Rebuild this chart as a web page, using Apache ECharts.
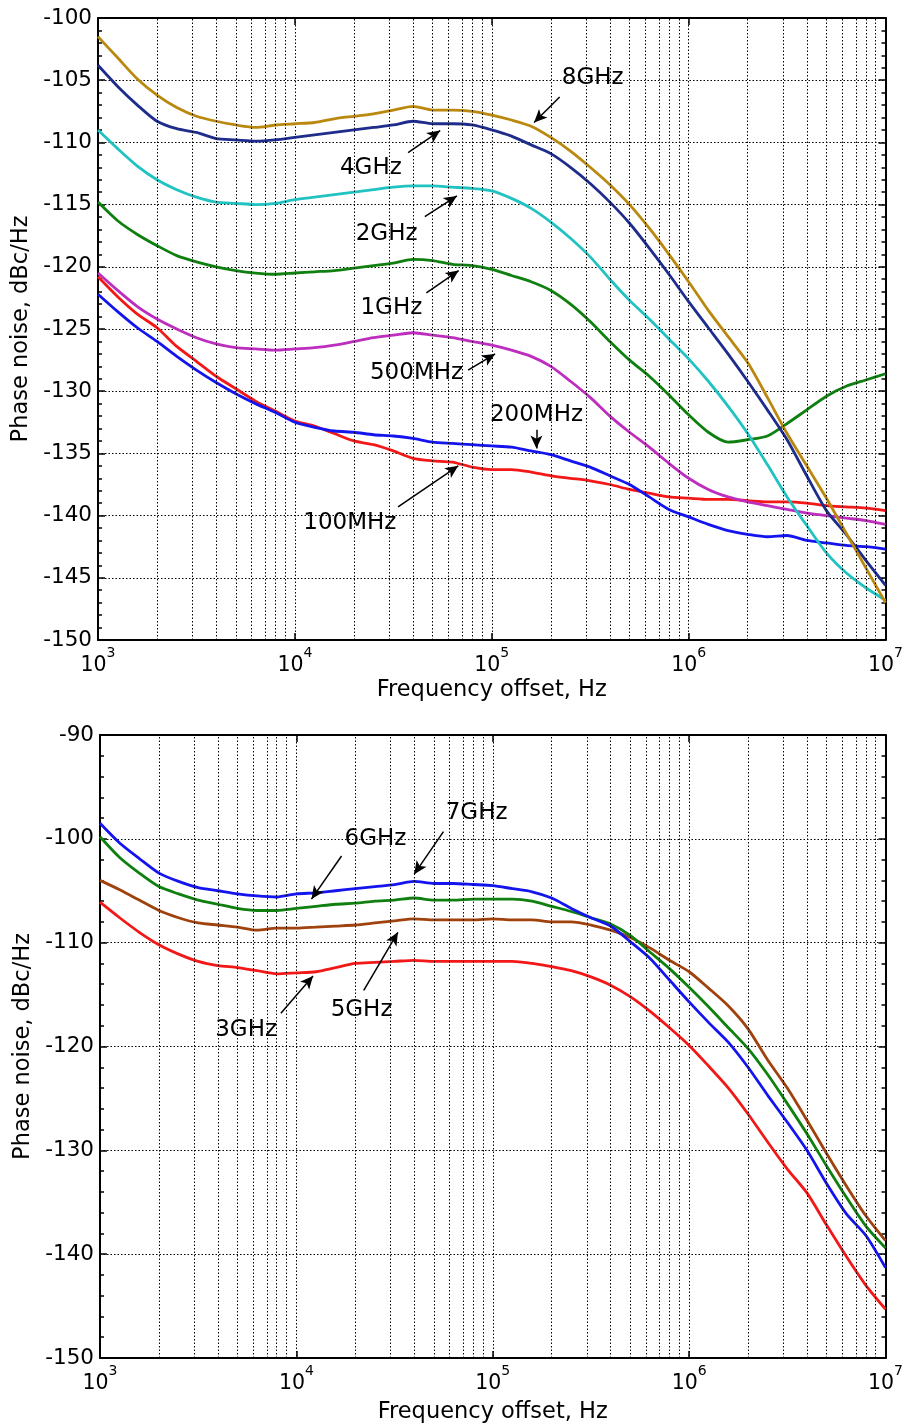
<!DOCTYPE html>
<html><head><meta charset="utf-8">
<script src="https://cdn.jsdelivr.net/npm/echarts@6/dist/echarts.min.js"></script>
<style>html,body{margin:0;padding:0;background:#fff}#c{width:906px;height:1428px}</style>
</head><body><div id="c"></div>
<script>
// log10 of frequency offset (Hz), shared sample grid for both panels
const logFreq = [3.0,3.1,3.2,3.3,3.4,3.5,3.6,3.7,3.8,3.9,4.0,4.1,4.2,4.3,4.4,4.5,4.6,4.7,4.8,4.9,5.0,5.1,5.2,5.3,5.4,5.5,5.6,5.7,5.8,5.9,6.0,6.1,6.2,6.3,6.4,6.5,6.6,6.7,6.8,6.9,7.0];

// ---- Top panel (dBc/Hz) ----
const p1_8GHz = [-101.5,-103.2,-104.9,-106.2,-107.2,-107.9,-108.3,-108.6,-108.8,-108.6,-108.5,
  -108.4,-108.1,-107.9,-107.7,-107.4,-107.1,-107.4,-107.4,-107.5,-107.8,
  -108.2,-108.7,-109.6,-110.7,-112.0,-113.4,-115.0,-116.9,-119.0,-121.2,
  -123.5,-125.6,-127.7,-130.5,-133.4,-136.0,-138.6,-141.4,-144.2,-147.0];
const p1_4GHz = [-103.8,-105.5,-107.0,-108.3,-108.9,-109.2,-109.7,-109.8,-109.9,-109.8,-109.6,
  -109.4,-109.2,-109.0,-108.8,-108.6,-108.3,-108.5,-108.5,-108.6,-109.0,
  -109.5,-110.2,-110.9,-112.0,-113.3,-114.8,-116.5,-118.5,-120.6,-122.8,
  -124.9,-127.0,-129.2,-131.5,-133.9,-136.8,-139.6,-141.5,-143.6,-145.6];
const p1_2GHz = [-109.0,-110.5,-111.9,-113.0,-113.8,-114.4,-114.8,-114.9,-115.0,-114.9,-114.6,
  -114.4,-114.2,-114.0,-113.8,-113.6,-113.5,-113.5,-113.6,-113.7,-113.9,
  -114.5,-115.3,-116.4,-117.7,-119.2,-121.0,-122.7,-124.2,-125.8,-127.4,
  -129.2,-131.2,-133.4,-135.9,-138.5,-140.8,-143.0,-144.6,-145.8,-146.8];
const p1_1GHz = [-114.8,-116.3,-117.4,-118.3,-119.1,-119.6,-120.0,-120.3,-120.5,-120.6,-120.5,
  -120.4,-120.3,-120.1,-119.9,-119.7,-119.4,-119.5,-119.8,-119.9,-120.2,
  -120.7,-121.2,-121.9,-123.0,-124.4,-126.0,-127.5,-128.8,-130.3,-131.9,
  -133.3,-134.1,-133.9,-133.6,-132.6,-131.5,-130.4,-129.6,-129.1,-128.6];
const p1_500MHz = [-120.5,-121.9,-123.2,-124.2,-125.0,-125.7,-126.2,-126.5,-126.6,-126.7,-126.6,
  -126.5,-126.3,-126.0,-125.7,-125.5,-125.3,-125.5,-125.7,-126.0,-126.3,
  -126.7,-127.2,-128.0,-129.2,-130.5,-132.0,-133.3,-134.5,-135.8,-137.0,
  -137.9,-138.5,-138.9,-139.2,-139.5,-139.8,-140.0,-140.2,-140.4,-140.7];
const p1_200MHz = [-122.2,-123.6,-124.9,-126.0,-127.2,-128.3,-129.3,-130.2,-131.0,-131.7,-132.5,
  -132.9,-133.2,-133.3,-133.5,-133.6,-133.8,-134.1,-134.2,-134.3,-134.4,
  -134.5,-134.8,-135.1,-135.6,-136.1,-136.8,-137.5,-138.5,-139.5,-140.1,
  -140.7,-141.2,-141.5,-141.7,-141.6,-142.0,-142.2,-142.4,-142.5,-142.7];
const p1_100MHz = [-120.8,-122.4,-123.8,-124.9,-126.4,-127.6,-128.8,-129.8,-130.8,-131.6,-132.4,
  -132.8,-133.4,-134.0,-134.3,-134.8,-135.4,-135.6,-135.7,-136.1,-136.3,
  -136.3,-136.5,-136.8,-137.0,-137.2,-137.5,-137.9,-138.2,-138.5,-138.6,
  -138.7,-138.7,-138.8,-138.9,-138.9,-139.0,-139.2,-139.3,-139.4,-139.6];

// ---- Bottom panel (dBc/Hz) ----
const p2_7GHz = [-98.5,-100.4,-101.9,-103.3,-104.1,-104.7,-105.0,-105.3,-105.5,-105.6,-105.3,
  -105.2,-105.0,-104.8,-104.6,-104.4,-104.1,-104.3,-104.3,-104.4,-104.5,
  -104.8,-105.1,-105.7,-106.7,-107.6,-108.4,-109.9,-111.5,-113.6,-115.7,
  -117.7,-119.6,-122.0,-124.7,-127.3,-130.0,-133.2,-136.1,-138.2,-141.3];
const p2_6GHz = [-99.8,-101.8,-103.3,-104.6,-105.3,-105.9,-106.3,-106.7,-106.9,-106.9,-106.7,
  -106.5,-106.3,-106.2,-106.0,-105.9,-105.7,-105.9,-105.9,-105.8,-105.8,
  -105.8,-106.0,-106.5,-107.0,-107.6,-108.2,-109.3,-110.9,-112.5,-114.3,
  -116.2,-118.2,-120.2,-122.7,-125.5,-128.4,-131.5,-134.5,-137.3,-139.4];
const p2_5GHz = [-104.0,-104.9,-105.9,-106.9,-107.6,-108.1,-108.3,-108.5,-108.8,-108.6,-108.6,
  -108.5,-108.4,-108.3,-108.1,-107.9,-107.7,-107.8,-107.8,-107.8,-107.7,
  -107.8,-107.8,-108.0,-108.0,-108.3,-108.8,-109.5,-110.5,-111.7,-112.8,
  -114.4,-116.1,-118.3,-121.3,-124.0,-127.1,-130.3,-133.4,-136.3,-138.7];
const p2_3GHz = [-106.1,-107.6,-109.0,-110.2,-111.1,-111.8,-112.2,-112.4,-112.7,-113.0,-112.9,
  -112.8,-112.4,-112.0,-111.9,-111.8,-111.7,-111.8,-111.8,-111.8,-111.8,
  -111.8,-112.0,-112.3,-112.7,-113.3,-114.1,-115.2,-116.6,-118.2,-119.9,
  -121.9,-124.0,-126.5,-129.2,-131.8,-134.1,-137.2,-140.2,-143.0,-145.3];

// annotation labels: [text, textX, textY, arrowFromX, arrowFromY, arrowToX, arrowToY] (log10 Hz, dB)
const notes1 = [
  ['8GHz',   5.513,-104.8, 5.345,-106.35, 5.215,-108.4],
  ['4GHz',   4.386,-112.1, 4.575,-110.83, 4.738,-109.05],
  ['2GHz',   4.466,-117.4, 4.660,-115.97, 4.823,-114.3],
  ['1GHz',   4.490,-123.3, 4.668,-122.1,  4.832,-120.3],
  ['500MHz', 4.618,-128.56,4.880,-128.3,  5.017,-127.0],
  ['200MHz', 5.227,-131.9, 5.227,-133.1,  5.227,-134.6],
  ['100MHz', 4.279,-140.6, 4.524,-139.3,  4.830,-136.0]
];
const notes2 = [
  ['7GHz', 4.918,-97.5,  4.749,-99.3,  4.600,-103.4],
  ['6GHz', 4.403,-100.0, 4.230,-101.65,4.077,-105.8],
  ['5GHz', 4.332,-116.5, 4.343,-114.6, 4.517,-109.0],
  ['3GHz', 3.744,-118.4, 3.921,-116.8, 4.085,-113.2]
];

const FONT = 'DejaVu Sans';
const minorX = [];
for (let d = 3; d < 7; d++) for (let k = 2; k <= 9; k++) minorX.push(d + Math.log10(k));

const dotted = {color:'#000', width:1, type:[1.5,2]};

function xAxes(gi) {
  return [
    { type:'value', gridIndex:gi, min:3, max:7, interval:1, position:'bottom',
      name:'Frequency offset, Hz', nameLocation:'middle', nameGap: gi===0 ? 39 : 43,
      nameTextStyle:{fontFamily:FONT, fontSize:22.5, color:'#000'},
      axisLine:{show:true, onZero:false, lineStyle:{color:'#000', width:2}},
      axisTick:{show:true, inside:true, length:7, lineStyle:{color:'#000', width:1.5}},
      axisLabel:{margin:6, color:'#000', formatter: v => '{b|10}{s|' + Math.round(v) + '}',
        rich:{ b:{fontFamily:FONT, fontSize:20.5, lineHeight:30, verticalAlign:'bottom', color:'#000'},
               s:{fontFamily:FONT, fontSize:14, lineHeight:14, verticalAlign:'top', color:'#000'} }},
      splitLine:{show:true, lineStyle:dotted} },
    { type:'value', gridIndex:gi, min:3, max:7, interval:1, position:'top',
      axisLine:{show:true, onZero:false, lineStyle:{color:'#000', width:2}},
      axisTick:{show:true, inside:true, length:7, lineStyle:{color:'#000', width:1.5}},
      axisLabel:{show:false}, splitLine:{show:false} }
  ];
}
function yAxes(gi, min, max, interval) {
  const common = { type:'value', gridIndex:gi, min, max, interval,
    axisLine:{show:true, onZero:false, lineStyle:{color:'#000', width:2}},
    axisTick:{show:true, inside:true, length:7, lineStyle:{color:'#000', width:1.5}},
    minorTick:{show:true, splitNumber:5, length:4, lineStyle:{color:'#000', width:1.5}} };
  return [
    Object.assign({}, common, { position:'left',
      name:'Phase noise, dBc/Hz', nameLocation:'middle', nameGap:63, nameRotate:90,
      nameTextStyle:{fontFamily:FONT, fontSize:22.5, color:'#000'},
      axisLabel:{margin:6, fontFamily:FONT, fontSize:21.5, color:'#000'},
      splitLine:{show:true, lineStyle:dotted} }),
    Object.assign({}, common, { position:'right', axisLabel:{show:false}, splitLine:{show:false} })
  ];
}

function curve(name, vals, color, xi, yi) {
  return { type:'line', name, xAxisIndex:xi, yAxisIndex:yi, silent:true,
    data: logFreq.map((x, i) => [x, vals[i]]),
    showSymbol:false, symbol:'none', smooth:0.25, z:3,
    lineStyle:{color, width:2.8}, itemStyle:{color} };
}
function gridLines(xi, yi) {
  return { type:'line', xAxisIndex:xi, yAxisIndex:yi, data:[], silent:true, z:1,
    markLine:{ silent:true, symbol:'none', animation:false, label:{show:false},
      lineStyle:dotted, emphasis:{disabled:true},
      data: minorX.map(x => ({xAxis:x})) } };
}
function notesSeries(notes, xi, yi) {
  return { type:'line', xAxisIndex:xi, yAxisIndex:yi, data:[], silent:true, z:5,
    markLine:{ silent:true, animation:false, symbol:['none','arrow'], symbolSize:[9,13],
      label:{show:false}, emphasis:{disabled:true},
      lineStyle:{color:'#000', width:1.5, type:'solid'}, itemStyle:{color:'#000'},
      data: notes.map(n => [{coord:[n[3], n[4]]}, {coord:[n[5], n[6]]}]) },
    markPoint:{ silent:true, animation:false, symbol:'circle', symbolSize:1,
      itemStyle:{color:'rgba(0,0,0,0)'},
      label:{show:true, position:'inside', color:'#000', fontFamily:FONT, fontSize:23,
        formatter: p => p.name},
      data: notes.map(n => ({name:n[0], coord:[n[1], n[2]]})) } };
}

const chart = echarts.init(document.getElementById('c'), null, {renderer:'canvas'});
chart.setOption({
  animation:false,
  backgroundColor:'#fff',
  grid:[
    {left:98, top:18, width:788, height:622},
    {left:100, top:735, width:789, height:623}
  ],
  xAxis: [...xAxes(0), ...xAxes(1)],
  yAxis: [...yAxes(0, -150, -100, 5), ...yAxes(1, -150, -90, 10)],
  series: [
    gridLines(0, 0),
    curve('100MHz', p1_100MHz, '#F21818', 0, 0),
    curve('200MHz', p1_200MHz, '#1414EE', 0, 0),
    curve('500MHz', p1_500MHz, '#BE2EBE', 0, 0),
    curve('1GHz', p1_1GHz, '#0F800F', 0, 0),
    curve('2GHz', p1_2GHz, '#20C2C2', 0, 0),
    curve('4GHz', p1_4GHz, '#1E2C8C', 0, 0),
    curve('8GHz', p1_8GHz, '#BA880E', 0, 0),
    notesSeries(notes1, 0, 0),
    gridLines(2, 2),
    curve('3GHz', p2_3GHz, '#F21818', 2, 2),
    curve('5GHz', p2_5GHz, '#A0420E', 2, 2),
    curve('6GHz', p2_6GHz, '#0F800F', 2, 2),
    curve('7GHz', p2_7GHz, '#1414EE', 2, 2),
    notesSeries(notes2, 2, 2)
  ]
});
</script>
</body></html>
